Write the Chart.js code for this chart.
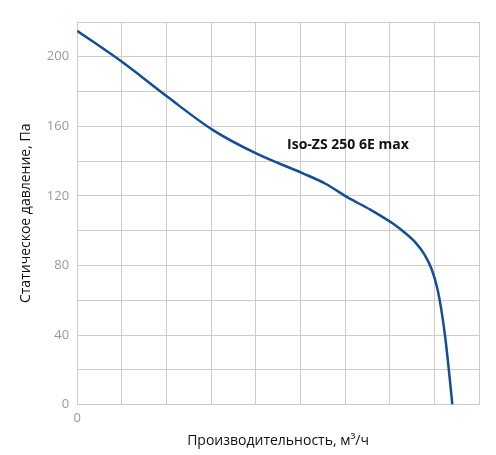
<!DOCTYPE html><html><head><script src="https://cdn.jsdelivr.net/npm/chart.js"></script>
<style>body{margin:0;background:#fff}#w{width:496px;height:455px}</style></head><body><div id="w"><canvas id="c"></canvas></div>
<script>
const flow=[0,200,400,600,800,1000,1100,1200,1300,1400,1450,1500,1540,1570,1595,1615,1632,1648,1662];
const pressure=[215,197,177,158,144,133,127,119,112,104,99,93,86,78,67,53,37,18,0];
const label='Iso-ZS 250 6E max';
new Chart(document.getElementById('c'),{type:'scatter',
data:{datasets:[{data:flow.map((x,i)=>({x,y:pressure[i]})),showLine:true,borderColor:'#134f94',borderWidth:2.5,pointRadius:0,cubicInterpolationMode:'monotone'}]},
options:{responsive:true,maintainAspectRatio:false,animation:false,layout:{padding:{top:22,right:17,left:14,bottom:2}},
plugins:{legend:{display:false},tooltip:{enabled:false}},
scales:{x:{min:0,max:1780,border:{color:'#ccc'},grid:{color:'#ccc',drawTicks:false},ticks:{stepSize:200,autoSkip:false,maxRotation:0,padding:6,color:'#999',font:{family:'Open Sans',size:13},callback:v=>v%400===0?v:''},
title:{display:true,text:'Производительность, м³/ч',color:'#111',font:{family:'Open Sans',size:14},padding:{top:0}}},
y:{min:0,max:220,border:{color:'#ccc'},grid:{color:'#ccc',drawTicks:false},ticks:{stepSize:20,autoSkip:false,padding:8,color:'#999',font:{family:'Open Sans',size:13},callback:v=>v%40===0&&v<220?v:''},
title:{display:true,text:'Статическое давление, Па',color:'#111',font:{family:'Open Sans',size:14}}}}},
plugins:[{id:'lbl',afterDraw(ch){const c=ch.ctx;c.save();c.font='bold 14px "Open Sans"';c.fillStyle='#111';c.textBaseline='middle';c.fillText(label,ch.scales.x.getPixelForValue(930),ch.scales.y.getPixelForValue(149));c.restore();}}]
});
</script></body></html>
